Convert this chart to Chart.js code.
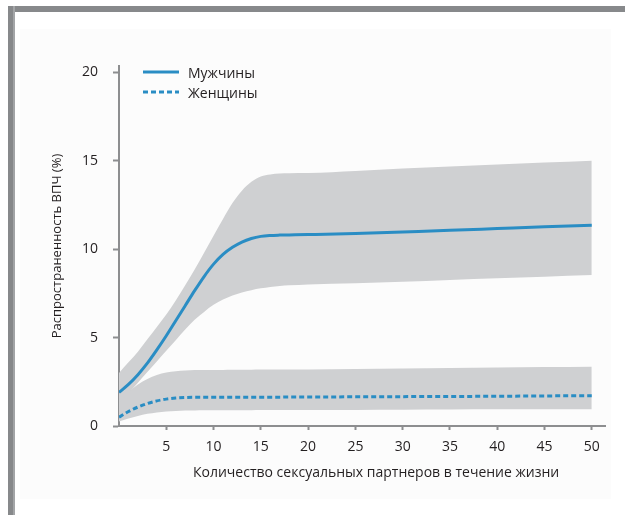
<!DOCTYPE html>
<html lang="ru">
<head>
<meta charset="utf-8">
<title>Распространенность ВПЧ</title>
<script src="https://cdn.jsdelivr.net/npm/chart.js@4.4.1/dist/chart.umd.min.js"></script>
<style>
  html, body { margin: 0; padding: 0; background: #ffffff; overflow: hidden; }
  #wrap { position: relative; width: 625px; height: 515px; overflow: hidden; font-family: "Open Sans", "DejaVu Sans", sans-serif; }
  .bar-top { position: absolute; left: 8px; top: 6px; width: 617px; height: 6px; background: #87898b; }
  .bar-left { position: absolute; left: 8px; top: 6px; width: 5px; height: 509px; background: #87898b; border-right: 2px solid #a3a5a7; }
  .panel { position: absolute; left: 20px; top: 29px; width: 591px; height: 470px; background: #fcfcfc; }
  canvas { position: absolute; left: 0; top: 0; }
  #legend { position: absolute; left: 143px; top: 62px; font-size: 14px; color: #231f20; }
  #legend .row { display: flex; align-items: center; height: 20px; }
  #legend svg { width: 36px; height: 6px; margin-right: 9px; }
  #xtitle { position: absolute; left: 193px; top: 462px; font-size: 14px; line-height: 20px; color: #231f20; white-space: nowrap; }
</style>
</head>
<body>
<div id="wrap">
  <div class="panel"></div>
  <div class="bar-top"></div>
  <div class="bar-left"></div>
  <canvas id="chart" width="625" height="515"></canvas>
  <div id="legend"></div>
  <div id="xtitle"></div>
</div>
<script>
// Lifetime number of sexual partners (x) and HPV prevalence, % (y)
const partners = [0, 1, 2, 3, 4, 5, 6, 7, 8, 9, 10, 11, 12, 13, 14, 15, 16, 17, 18, 20, 25, 30, 35, 40, 45, 50];

const menPrevalence = [1.9, 2.35, 2.9, 3.55, 4.3, 5.1, 5.95, 6.8, 7.65, 8.45, 9.15, 9.7, 10.1, 10.4, 10.6, 10.72, 10.77, 10.79, 10.8, 10.82, 10.88, 10.97, 11.06, 11.16, 11.26, 11.35];
const menUpper = [3.0, 3.6, 4.2, 4.9, 5.6, 6.3, 7.1, 7.95, 8.85, 9.8, 10.75, 11.7, 12.6, 13.3, 13.8, 14.1, 14.22, 14.27, 14.29, 14.3, 14.42, 14.55, 14.67, 14.78, 14.89, 15.0];
const menLower = [1.3, 1.85, 2.45, 3.05, 3.65, 4.25, 4.85, 5.45, 6.0, 6.45, 6.85, 7.15, 7.38, 7.55, 7.68, 7.78, 7.86, 7.91, 7.95, 8.0, 8.07, 8.16, 8.26, 8.35, 8.44, 8.53];

const womenPrevalence = [0.5, 0.82, 1.07, 1.27, 1.42, 1.52, 1.58, 1.61, 1.62, 1.62, 1.62, 1.62, 1.63, 1.63, 1.63, 1.63, 1.63, 1.63, 1.64, 1.64, 1.65, 1.66, 1.67, 1.68, 1.7, 1.71];
const womenUpper = [1.55, 1.95, 2.35, 2.65, 2.88, 3.02, 3.1, 3.14, 3.16, 3.17, 3.17, 3.17, 3.18, 3.18, 3.18, 3.19, 3.19, 3.19, 3.19, 3.2, 3.22, 3.25, 3.28, 3.3, 3.33, 3.35];
const womenLower = [0.25, 0.42, 0.57, 0.69, 0.77, 0.82, 0.85, 0.87, 0.88, 0.89, 0.89, 0.89, 0.89, 0.89, 0.89, 0.9, 0.9, 0.9, 0.9, 0.9, 0.91, 0.92, 0.93, 0.94, 0.94, 0.95];

const seriesNames = ['Мужчины', 'Женщины'];
const xTickValues = [5, 10, 15, 20, 25, 30, 35, 40, 45, 50];
const yTickValues = [0, 5, 10, 15, 20];
const xTitle = 'Количество сексуальных партнеров в течение жизни';
const yTitle = 'Распространенность ВПЧ (%)';

const toPoints = (ys) => partners.map((x, i) => ({ x: x, y: ys[i] }));

const LINE_BLUE = '#2a8dc4';
const BAND_GREY = '#cfd0d2';
const AXIS_GREY = '#8d8e90';
const TEXT = '#231f20';
const FONT = '"Open Sans", "DejaVu Sans", sans-serif';

const lineBase = { pointRadius: 0, borderWidth: 3, borderColor: LINE_BLUE, fill: false, cubicInterpolationMode: 'monotone' };
const bandBase = { pointRadius: 0, borderWidth: 0, borderColor: 'rgba(0,0,0,0)', backgroundColor: BAND_GREY, cubicInterpolationMode: 'monotone' };

const chart = new Chart(document.getElementById('chart'), {
  type: 'line',
  data: {
    datasets: [
      Object.assign({ label: seriesNames[0], data: toPoints(menPrevalence), inLegend: true }, lineBase),
      Object.assign({ label: seriesNames[1], data: toPoints(womenPrevalence), borderDash: [5, 3], inLegend: true }, lineBase),
      Object.assign({ label: seriesNames[0] + ' (верх)', data: toPoints(menUpper), fill: '+1' }, bandBase),
      Object.assign({ label: seriesNames[0] + ' (низ)', data: toPoints(menLower), fill: false }, bandBase),
      Object.assign({ label: seriesNames[1] + ' (верх)', data: toPoints(womenUpper), fill: '+1' }, bandBase),
      Object.assign({ label: seriesNames[1] + ' (низ)', data: toPoints(womenLower), fill: false }, bandBase)
    ]
  },
  options: {
    responsive: false,
    animation: false,
    layout: { padding: { left: 49, top: 66, right: 20, bottom: 35 } },
    plugins: { legend: { display: false }, tooltip: { enabled: false } },
    scales: {
      x: {
        type: 'linear',
        min: 0,
        max: 51.4,
        afterBuildTicks: (s) => { s.ticks = xTickValues.map(v => ({ value: v })); },
        afterFit: (s) => { s.height = 54; },
        ticks: { color: TEXT, padding: 9, maxRotation: 0, autoSkip: false, font: { family: FONT, size: 14 } },
        grid: { drawOnChartArea: false, drawTicks: true, tickLength: 4, tickWidth: 2, tickColor: AXIS_GREY },
        border: { display: true, color: AXIS_GREY, width: 2 },
        title: { display: false }
      },
      y: {
        type: 'linear',
        min: 0,
        max: 20.35,
        afterBuildTicks: (s) => { s.ticks = yTickValues.map(v => ({ value: v })); },
        afterFit: (s) => { s.width = 70; },
        ticks: { color: TEXT, padding: 15, font: { family: FONT, size: 14 } },
        grid: { drawOnChartArea: false, drawTicks: true, tickLength: 6, tickWidth: 2, tickColor: AXIS_GREY },
        border: { display: true, color: AXIS_GREY, width: 2 },
        title: { display: true, text: yTitle, color: TEXT, padding: 0, font: { family: FONT, size: 13 } }
      }
    }
  }
});

document.getElementById('xtitle').textContent = xTitle;

// Legend built from the line datasets
const legendEl = document.getElementById('legend');
chart.data.datasets.filter(d => d.inLegend).forEach(d => {
  const row = document.createElement('div');
  row.className = 'row';
  const dash = d.borderDash ? d.borderDash.join(' ') : 'none';
  row.innerHTML = '<svg viewBox="0 0 36 6"><line x1="0" y1="3" x2="36" y2="3" stroke="' + d.borderColor +
    '" stroke-width="3" stroke-dasharray="' + dash + '"/></svg><span>' + d.label + '</span>';
  legendEl.appendChild(row);
});
</script>
</body>
</html>
